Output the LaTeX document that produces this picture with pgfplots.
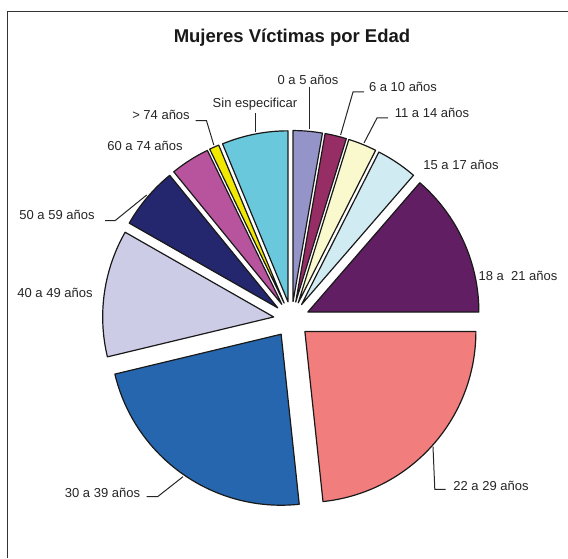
\documentclass[border=0pt]{standalone}
\usepackage{pgfplots}
\pgfplotsset{compat=1.18}
\usepackage{pgfplotstable}
\usepackage{fontspec}
\setmainfont{Liberation Sans}

\definecolor{s0}{RGB}{148,148,200}
\definecolor{s1}{RGB}{150,45,100}
\definecolor{s2}{RGB}{250,248,205}
\definecolor{s3}{RGB}{208,236,242}
\definecolor{s4}{RGB}{98,30,98}
\definecolor{s5}{RGB}{242,125,125}
\definecolor{s6}{RGB}{38,102,174}
\definecolor{s7}{RGB}{204,204,230}
\definecolor{s8}{RGB}{36,38,110}
\definecolor{s9}{RGB}{184,84,158}
\definecolor{s10}{RGB}{240,232,0}
\definecolor{s11}{RGB}{106,200,220}

% porcentaje de cada grupo de edad, en el orden de las agujas del reloj desde las 12
\pgfplotstableread[col sep=comma]{
grupo,pct,lx,ly
0 a 5 años,2.75,308,473
6 a 10 años,2.03,403,466
11 a 14 años,2.69,432,440
15 a 17 años,3.89,461,388
18 a\ \ 21 años,13.64,518,277
22 a 29 años,23.31,491,68
30 a 39 años,22.94,102.5,61
40 a 49 años,12.00,55,261
50 a 59 años,5.86,57,338
60 a 74 años,3.72,145,407
> 74 años,0.92,161,438
Sin especificar,6.25,255,450
}\datos

\begin{document}
\begin{tikzpicture}
\useasboundingbox (0,0) rectangle (568pt,558pt);
\fill[white] (0,0) rectangle (568pt,558pt);
\begin{axis}[
  x=1pt, y=1pt,
  xmin=0, xmax=568, ymin=0, ymax=558,
  at={(0,0)}, anchor=south west,
  hide axis, clip=false,
]
\pgfplotsextra{
  % marco
  \draw[line width=1.6pt, black!80, line cap=butt] (axis cs:7.3,0) -- (axis cs:7.3,546.5) -- (axis cs:568,546.5);
  \node[font=\bfseries\fontsize{18.5}{22}\selectfont, anchor=base, black!90] at (axis cs:292,515) {Mujeres Víctimas por Edad};
  \pgfplotstablegetrowsof{\datos}
  \pgfmathtruncatemacro\n{\pgfplotsretval-1}
  \gdef\acc{90}
  \foreach \i in {0,...,\n}{
    \pgfplotstablegetelem{\i}{pct}\of\datos
    \pgfmathsetmacro\aone{\acc}
    \pgfmathsetmacro\atwo{\acc-3.6*\pgfplotsretval}
    \pgfmathsetmacro\amid{(\aone+\atwo)/2}
    \pgfmathsetmacro\px{291.5+18*cos(\amid)}
    \pgfmathsetmacro\py{238.5+18*sin(\amid)}
    \filldraw[fill=s\i, draw=black!90, line width=1.2pt, line join=round]
      (axis cs:\px,\py) -- ++(\aone:171pt)
      arc[start angle=\aone, end angle=\atwo, radius=171pt] -- cycle;
    \xdef\acc{\atwo}
    \pgfplotstablegetelem{\i}{lx}\of\datos \let\lx\pgfplotsretval
    \pgfplotstablegetelem{\i}{ly}\of\datos \let\ly\pgfplotsretval
    \pgfplotstablegetelem{\i}{grupo}\of\datos
    \node[anchor=base, font=\fontsize{13}{15}\selectfont, black!85, inner sep=0pt]
      at (axis cs:\lx,\ly) {\pgfplotsretval};
  }
  % lineas guia
  \begin{scope}[line width=1pt, black!85]
    \draw (axis cs:309,471) -- (axis cs:309,429);
    \draw (axis cs:364,466) -- (axis cs:353,466) -- (axis cs:340.6,423);
    \draw (axis cs:388,440) -- (axis cs:377,440) -- (axis cs:364,415);
    \draw (axis cs:255.4,445) -- (axis cs:255.4,426);
    \draw (axis cs:195.6,437.3) -- (axis cs:206.5,437.3) -- (axis cs:213.8,413);
    \draw (axis cs:105,337.3) -- (axis cs:115,337.3) -- (axis cs:146.7,363);
    \draw (axis cs:146.7,61.3) -- (axis cs:157.6,61.3) -- (axis cs:183,81.3);
    \draw (axis cs:433,111.3) -- (axis cs:434.8,68.7) -- (axis cs:445.7,68.7);
  \end{scope}
}
\end{axis}
\end{tikzpicture}
\end{document}
